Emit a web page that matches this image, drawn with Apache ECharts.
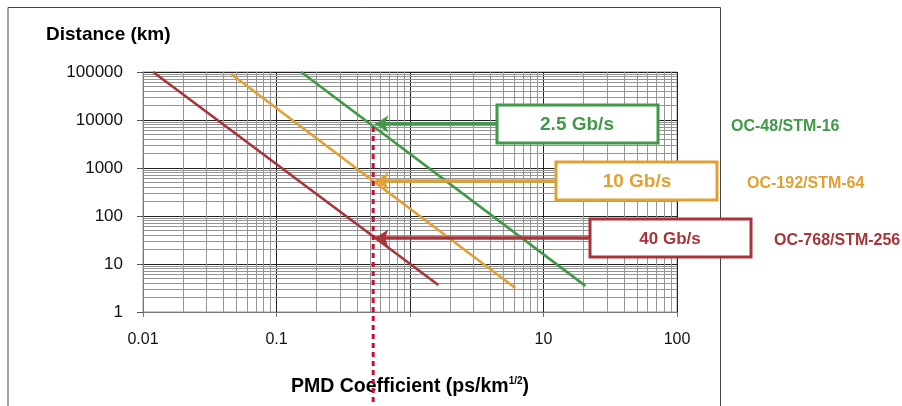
<!DOCTYPE html>
<html>
<head>
<meta charset="utf-8">
<script src="https://cdn.jsdelivr.net/npm/echarts@6/dist/echarts.min.js"></script>
<style>html,body{margin:0;padding:0;background:#fff}#c{width:902px;height:406px}</style>
</head>
<body>
<div id="c"></div>
<script>
// ---- data ----
const rates = ['2.5 Gb/s', '10 Gb/s', '40 Gb/s'];
const sdhNames = ['OC-48/STM-16', 'OC-192/STM-64', 'OC-768/STM-256'];
const line25 = [[0.153, 100000], [20.6, 3.5]];
const line10 = [[0.0457, 91000], [6.15, 3.16]];
const line40 = [[0.0119, 100000], [1.63, 3.65]];
const arrowLevels = [8260, 536, 34.8];      // distance where arrows hit the curves
const arrowStartX = [4.43, 12.5, 22.4];     // PMD where arrows leave the boxes
const arrowEndX = 0.55;
const limitPMD = 0.53;                      // dotted vertical marker
const limitTop = 7150;
const xHiddenLabels = [1];

const colors = ['#3f9a48', '#e3a032', '#a8343a'];
const font = 'Liberation Sans, Arial, sans-serif';

// minor grid values (2..9 per decade)
const minorX = [], minorY = [];
for (let e = -2; e < 2; e++) for (let m = 2; m <= 9; m++) minorX.push(+(m * Math.pow(10, e)).toPrecision(6));
for (let e = 0; e < 5; e++) for (let m = 2; m <= 9; m++) minorY.push(m * Math.pow(10, e));

const chart = echarts.init(document.getElementById('c'));
const lineData = [line25, line10, line40];

const series = [{
  type: 'line', data: [[0.01, 1]], showSymbol: false, silent: true, z: 1,
  lineStyle: { width: 0 },
  markLine: {
    z: 1, silent: true, symbol: 'none', animation: false,
    label: { show: false },
    lineStyle: { type: 'solid', color: '#959595', width: 1 },
    data: minorX.map(v => ({ xAxis: v })).concat(minorY.map(v => ({ yAxis: v })))
  }
}];
lineData.forEach((d, i) => {
  series.push({
    type: 'line', data: d, showSymbol: false, silent: true, z: 3, clip: false,
    lineStyle: { color: colors[i], width: 2.6 },
    markLine: {
      z: 5, silent: true, animation: false,
      symbol: ['none', 'arrow'], symbolSize: [13, 13],
      label: { show: false },
      lineStyle: { type: 'solid', color: colors[i], width: 3.5 },
      data: [[{ coord: [arrowStartX[i], arrowLevels[i]] }, { coord: [arrowEndX, arrowLevels[i]] }]]
    }
  });
});

const fmt = v => {
  const n = +(+v).toPrecision(6);
  return xHiddenLabels.indexOf(n) >= 0 ? '' : String(n);
};

// boxes + labels
const boxes = [
  { x: 497, y: 105, w: 161, h: 38, tx: 577, fs: 19 },
  { x: 556, y: 162, w: 161, h: 38, tx: 637, fs: 19 },
  { x: 590, y: 219, w: 161, h: 38, tx: 670, fs: 17 }
];
const sdhPos = [[731, 127], [747, 184], [774, 241]];
const graphic = [
  { type: 'polyline', silent: true, z: 0, shape: { points: [[8, 406], [8, 7.5], [720.5, 7.5], [720.5, 406]] },
    style: { stroke: '#444', lineWidth: 1, fill: null } },
  { type: 'text', left: 46, top: 25, style: { text: 'Distance (km)', font: 'bold 19px ' + font, fill: '#000' } }
];
boxes.forEach((b, i) => {
  graphic.push({ type: 'rect', z: 10, shape: { x: b.x, y: b.y, width: b.w, height: b.h },
    style: { fill: '#fff', stroke: colors[i], lineWidth: 3 } });
  graphic.push({ type: 'text', z: 11, x: b.tx, y: b.y + b.h / 2 + 1,
    style: { text: rates[i], font: 'bold ' + b.fs + 'px ' + font, fill: colors[i], align: 'center', verticalAlign: 'middle' } });
  graphic.push({ type: 'text', z: 11, x: sdhPos[i][0], y: sdhPos[i][1],
    style: { text: sdhNames[i], font: 'bold 16px ' + font, fill: colors[i], align: 'left', verticalAlign: 'middle' } });
});

chart.setOption({
  animation: false,
  backgroundColor: '#fff',
  grid: { left: 143, right: 225, top: 72, bottom: 94, show: true, borderColor: '#999', borderWidth: 1, containLabel: false },
  xAxis: {
    type: 'log', logBase: 10, min: 0.01, max: 100,
    axisLine: { show: true, lineStyle: { color: '#777' } },
    axisTick: { show: true, length: 5, lineStyle: { color: '#777' } },
    axisLabel: { formatter: fmt, margin: 20, fontSize: 16, color: '#111', fontFamily: font },
    splitLine: { show: true, lineStyle: { color: '#222', width: 1 } },
    name: '{b|PMD Coefficient (ps/km}{s|1/2}{b|)}',
    nameLocation: 'middle', nameGap: 64,
    nameTextStyle: {
      rich: {
        b: { fontSize: 19.5, fontWeight: 'bold', fontFamily: font, color: '#000' },
        s: { fontSize: 10, fontWeight: 'bold', fontFamily: font, color: '#000', padding: [0, 0, 11, 0] }
      }
    }
  },
  yAxis: {
    type: 'log', logBase: 10, min: 1, max: 100000,
    axisLine: { show: true, lineStyle: { color: '#777' } },
    axisTick: { show: true, length: 6, lineStyle: { color: '#555' } },
    axisLabel: { formatter: v => String(Math.round(v)), margin: 20, fontSize: 17, color: '#111', fontFamily: font },
    splitLine: { show: true, lineStyle: { color: '#222', width: 1 } }
  },
  series: series,
  graphic: graphic
});

// dotted limit line: top from data via the library's scale, runs to the page bottom
const p = chart.convertToPixel({ gridIndex: 0 }, [limitPMD, limitTop]);
graphic.push({ type: 'line', z: 8, silent: true,
  shape: { x1: p[0], y1: p[1], x2: p[0], y2: chart.getHeight() },
  style: { stroke: '#c8102e', lineWidth: 3, lineDash: [5, 4] } });
chart.setOption({ graphic: graphic });
</script>
</body>
</html>
